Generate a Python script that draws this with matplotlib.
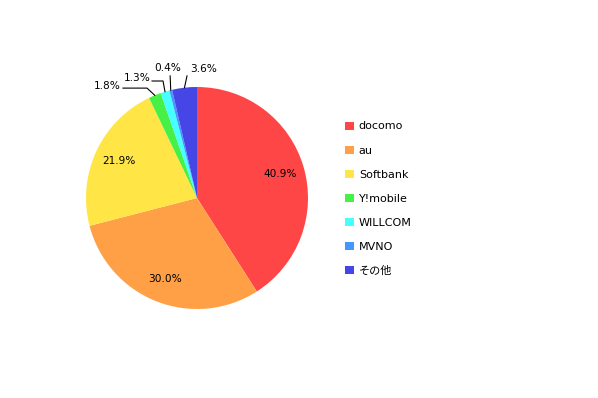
import matplotlib
matplotlib.use("Agg")
import numpy as np
import matplotlib.pyplot as plt

# ── DANE ─────────────────────────────────────────────────────────────────────
carriers = ["docomo", "au", "Softbank", "Y!mobile", "WILLCOM", "MVNO", "その他"]
shares   = [40.9, 30.0, 21.9, 1.8, 1.3, 0.4, 3.6]
colors   = ["#FF4646", "#FFA046", "#FFE646", "#46F046", "#46FFFF", "#4696FF", "#4646E6"]

# uklad etykiet dla malych wycinkow: (x tekstu, y tekstu, ha, va, punkt zalamania, start linii)
small_layout = {
    "Y!mobile": (-0.69, 1.01, "right", "center", (-0.45, 0.99), (-0.667, 0.99)),
    "WILLCOM":  (-0.414, 1.085, "right", "center", (-0.306, 1.054), (-0.405, 1.054)),
    "MVNO":     (-0.26, 1.13, "center", "bottom", None, (-0.242, 1.10)),
    "その他":   (-0.063, 1.115, "left", "bottom", None, (-0.09, 1.10)),
}

plt.rcParams["font.family"] = ["DejaVu Sans", "Noto Sans CJK JP"]
FS = 7.6

fig = plt.figure(figsize=(5.98, 3.98), dpi=100)
# srodek kola (197,198) px, promien 111 px
R = 111
cx, cy = 197, 198
lim = 1.2
ax = fig.add_axes([(cx - lim * R) / 598, (398 - cy - lim * R) / 398,
                   2 * lim * R / 598, 2 * lim * R / 398])

wedges, _ = ax.pie(shares, colors=colors, startangle=90, counterclock=False,
                   radius=1.0, wedgeprops={"linewidth": 0})
ax.set_xlim(-lim, lim)
ax.set_ylim(-lim, lim)
ax.set_aspect("equal")
ax.axis("off")

for w, name, v in zip(wedges, carriers, shares):
    mid = np.radians((w.theta1 + w.theta2) / 2)
    label = f"{v:.1f}%"
    if v > 5:
        d = 0.78
        ax.text(d * np.cos(mid), d * np.sin(mid), label, fontsize=FS,
                ha="center", va="center", color="black")
    else:
        tx, ty, ha, va, elbow, start = small_layout[name]
        ax.text(tx, ty, label, fontsize=FS, ha=ha, va=va, color="black")
        edge = (np.cos(mid), np.sin(mid))
        pts = [start] + ([elbow] if elbow else []) + [edge]
        xs, ys = zip(*pts)
        ax.plot(xs, ys, color="black", lw=0.8, clip_on=False)

leg = fig.legend(wedges, carriers, loc="upper left",
                 bbox_to_anchor=(341 / 598, 1 - 117 / 398),
                 frameon=False, fontsize=8, handlelength=0.75, handleheight=0.75,
                 handletextpad=0.45, labelspacing=1.27, borderaxespad=0)

fig.savefig("out.png", dpi=100, facecolor="white")
